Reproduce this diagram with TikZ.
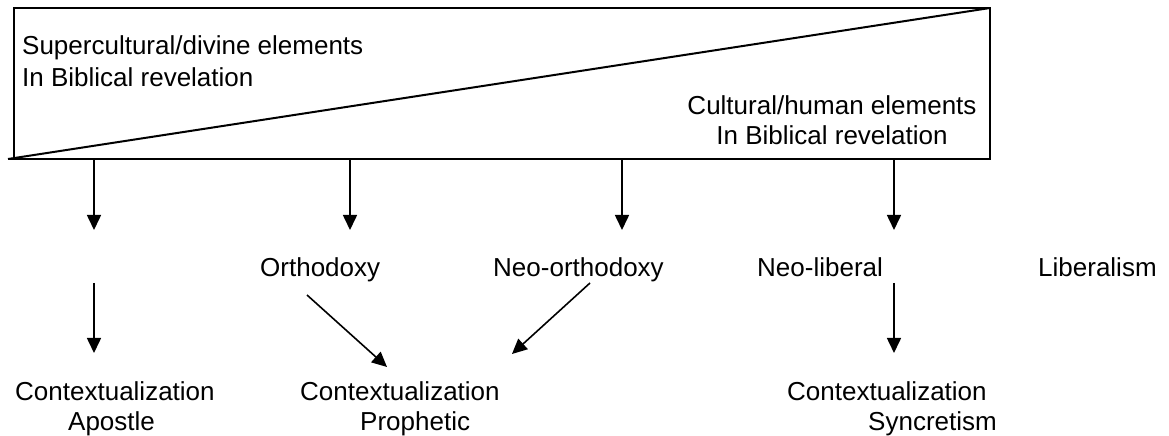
\documentclass[tikz,border=0pt]{standalone}
\usepackage{fontspec}
\setmainfont{Liberation Sans}
\usetikzlibrary{arrows.meta}
\tikzset{
  lbl/.style={inner sep=0pt, font=\fontsize{26bp}{31bp}\selectfont},
  frame/.style={line width=2bp, line join=miter},
  arr/.style={line width=1.6bp, -{Triangle[length=15bp,width=14bp]}}
}
\begin{document}
\begin{tikzpicture}[x=1bp, y=-1bp]
\useasboundingbox (0,0) rectangle (1169,436);
% frame
\draw[frame] (14,8) rectangle (990,159);
\draw[frame] (8,159) -- (14,159);
\draw[frame] (8,159) -- (990,8);
% texts in frame (base anchor = baseline of last line)
\node[lbl, anchor=base west, align=left, font=\fontsize{26bp}{32bp}\selectfont] (divine) at (22,87) {Supercultural/divine elements\\In Biblical revelation};
\node[lbl, anchor=base, align=center, font=\fontsize{26bp}{30bp}\selectfont] (human) at (832,145) {Cultural/human elements\\In Biblical revelation};
% row 2
\node[lbl, anchor=base west] (orth) at (260,277) {Orthodoxy};
\node[lbl, anchor=base west] (neoorth) at (493,277) {Neo-orthodoxy};
\node[lbl, anchor=base west] (neolib) at (757,277) {Neo-liberal};
\node[lbl, anchor=base west] (lib) at (1038,277) {Liberalism};
% row 3
\node[lbl, anchor=base west, align=left, font=\fontsize{26bp}{30bp}\selectfont] (apostle) at (15,431) {Contextualization\\\hspace*{53bp}Apostle};
\node[lbl, anchor=base west, align=left, font=\fontsize{26bp}{30bp}\selectfont] (proph) at (300,431) {Contextualization\\\hspace*{60bp}Prophetic};
\node[lbl, anchor=base west, align=left, font=\fontsize{26bp}{30bp}\selectfont] (sync) at (787,431) {Contextualization\\\hspace*{81bp}Syncretism};
% coordinates
\coordinate (b1) at (94,159);
\coordinate (b2) at (350,159);
\coordinate (b3) at (622,159);
\coordinate (b4) at (894,159);
\coordinate (t1) at (94,230);
\coordinate (t2) at (350,230);
\coordinate (t3) at (622,230);
\coordinate (t4) at (894,230);
\coordinate (s1) at (94,283);
\coordinate (e1) at (94,353);
\coordinate (s2) at (307,295);
\coordinate (e2) at (387,367);
\coordinate (s3) at (590,283);
\coordinate (e3) at (512,354);
\coordinate (s4) at (894,283);
\coordinate (e4) at (894,353);
% arrows
\draw[arr] (b1) -- (t1);
\draw[arr] (b2) -- (t2);
\draw[arr] (b3) -- (t3);
\draw[arr] (b4) -- (t4);
\draw[arr] (s1) -- (e1);
\draw[arr] (s2) -- (e2);
\draw[arr] (s3) -- (e3);
\draw[arr] (s4) -- (e4);
\end{tikzpicture}
\end{document}
